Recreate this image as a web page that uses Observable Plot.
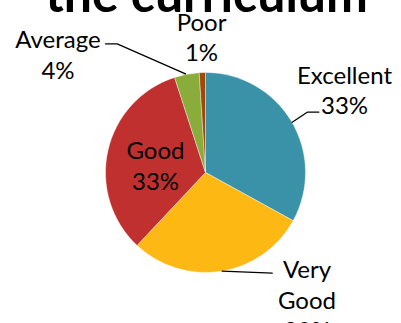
<!DOCTYPE html>
<html><head><meta charset="utf-8">
<script src="https://cdn.jsdelivr.net/npm/d3@7"></script>
<script src="https://cdn.jsdelivr.net/npm/@observablehq/plot@0.6"></script>
<style>body{margin:0;background:#fff;overflow:hidden}</style>
</head><body><div id="chart"></div>
<script>
// ---- data ----
const categories = ["Excellent", "Very Good", "Good", "Average", "Poor"];
const values = [33, 29, 33, 4, 1];
const labels = ["Excellent\n33%", "Very\nGood\n29%", "Good\n33%", "Average\n4%", "Poor\n1%"];
const colors = ["#3A92A8", "#FDB813", "#C0302F", "#8AAC3A", "#A0470A"];
const title = "the curriculum";

// ---- layout (data units, pie radius = 1) ----
const labelPos = {
  "Excellent": [1.385, 1.11],
  "Very Good": [1.01, -0.835],
  "Good": [-0.505, 0.355],
  "Average": [-1.48, 1.465],
  "Poor": [-0.045, 1.64]
};
const leaders = [
  {name: "Excellent", pts: [[0.862, 0.508], [1.012, 0.608], [1.128, 0.608]]},
  {name: "Average", pts: [[-0.205, 0.992], [-0.888, 1.292], [-1.005, 1.292]]},
  {name: "Very Good", pts: [[0.162, -0.982], [0.662, -1.002]]}
];

const table = categories.map((c, i) => ({category: c, value: values[i], label: labels[i], color: colors[i]}));
const arcs = d3.pie().sort(null).value(d => d.value)(table);

const font = "Lato, 'Open Sans', sans-serif";

function pieMark(index, scales) {
  const cx = scales.x(0), cy = scales.y(0);
  const r = scales.x(1) - scales.x(0);
  const arcGen = d3.arc().innerRadius(0).outerRadius(r);
  const g = d3.create("svg:g").attr("transform", `translate(${cx},${cy})`);
  g.selectAll("path").data(arcs).join("path")
    .attr("d", arcGen)
    .attr("fill", d => d.data.color)
    .attr("stroke", "#fff")
    .attr("stroke-width", 0.4);
  return g.node();
}

const lineData = leaders.flatMap(l => l.pts.map(p => ({name: l.name, x: p[0], y: p[1]})));
const textData = table.map(d => ({label: d.label, x: labelPos[d.category][0], y: labelPos[d.category][1]}));

const chart = Plot.plot({
  width: 401,
  height: 323,
  margin: 0,
  x: {domain: [-2.055, 1.955], axis: null},
  y: {domain: [-1.505, 1.725], axis: null},
  style: {fontFamily: font, background: "#fff"},
  marks: [
    pieMark,
    Plot.line(lineData, {x: "x", y: "y", z: "name", stroke: "#000", strokeWidth: 1.3}),
    Plot.text(textData, {x: "x", y: "y", text: "label", lineAnchor: "top", lineHeight: 1.27, fontSize: 24, fill: "#000", textAnchor: "middle"}),
    Plot.text([title], {frameAnchor: "top", text: d => d, fontSize: 50, fontWeight: 700, dy: -24, dx: 5.5, fill: "#000"})
  ]
});
document.getElementById("chart").append(chart);
</script>
</body></html>
